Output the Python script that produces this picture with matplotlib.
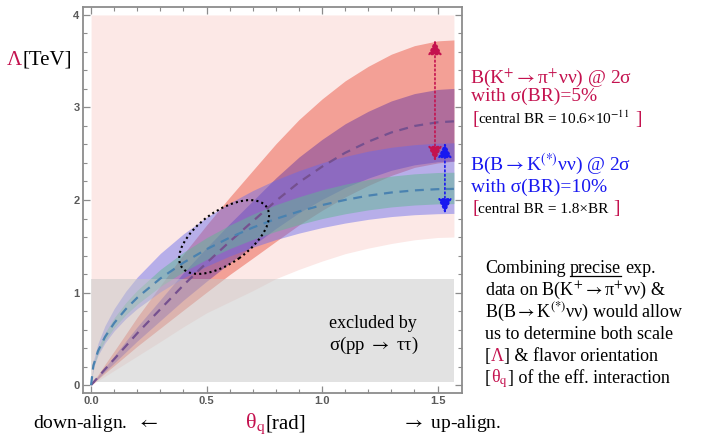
import matplotlib
matplotlib.use('Agg')
import matplotlib.pyplot as plt
from matplotlib.patches import Ellipse
from matplotlib.lines import Line2D
from matplotlib.transforms import ScaledTranslation

W, H = 705, 440
SERIF = ['Liberation Serif', 'DejaVu Serif']
plt.rcParams['mathtext.fontset'] = 'stix'

CRIMSON = '#C4124F'
BLUE = '#1818F0'
BLACK = '#000000'

# theta_q grid [rad] and the curves
theta = [0.0, 0.01, 0.03, 0.06, 0.1, 0.15, 0.2, 0.3, 0.4, 0.5, 0.6, 0.7,
         0.8, 0.9, 1.0, 1.1, 1.2, 1.3, 1.4, 1.5, 1.571]

# K+ -> pi+ nu nu : central, inner band, outer (2 sigma) band
k_mid = [0.0, 0.028, 0.085, 0.17, 0.28, 0.42, 0.56, 0.82, 1.08, 1.32, 1.55,
         1.77, 1.99, 2.19, 2.36, 2.51, 2.63, 2.73, 2.80, 2.84, 2.85]
k_lo1 = [0.0, 0.024, 0.072, 0.145, 0.238, 0.357, 0.476, 0.697, 0.918, 1.122,
         1.318, 1.505, 1.692, 1.862, 2.006, 2.134, 2.236, 2.321, 2.38, 2.414, 2.42]
k_hi1 = [0.0, 0.032, 0.096, 0.191, 0.315, 0.473, 0.63, 0.923, 1.215, 1.485,
         1.744, 1.991, 2.239, 2.464, 2.655, 2.824, 2.959, 3.071, 3.15, 3.195, 3.206]
k_lo2 = [0.0, 0.021, 0.064, 0.128, 0.21, 0.315, 0.42, 0.615, 0.81, 1.003,
         1.194, 1.372, 1.552, 1.73, 1.888, 2.033, 2.157, 2.266, 2.352, 2.40, 2.42]
k_hi2 = [0.0, 0.037, 0.111, 0.223, 0.367, 0.55, 0.734, 1.074, 1.415, 1.729,
         2.03, 2.319, 2.607, 2.869, 3.092, 3.288, 3.445, 3.576, 3.668, 3.72, 3.73]

# B -> K(*) nu nu : central, inner band, outer (2 sigma) band
b_mid = [0.0, 0.212, 0.367, 0.519, 0.67, 0.82, 0.945, 1.152, 1.323, 1.468,
         1.593, 1.702, 1.796, 1.876, 1.945, 2.001, 2.047, 2.081, 2.104, 2.117, 2.12]
b_lo1 = [0.0, 0.196, 0.339, 0.48, 0.62, 0.759, 0.874, 1.066, 1.224, 1.358,
         1.474, 1.574, 1.661, 1.735, 1.799, 1.851, 1.893, 1.925, 1.946, 1.958, 1.961]
b_hi1 = [0.0, 0.23, 0.398, 0.563, 0.727, 0.89, 1.025, 1.25, 1.435, 1.593,
         1.728, 1.847, 1.949, 2.035, 2.11, 2.171, 2.221, 2.258, 2.283, 2.297, 2.30]
b_lo2 = [0.0, 0.186, 0.321, 0.454, 0.586, 0.718, 0.827, 1.008, 1.158, 1.285,
         1.394, 1.489, 1.572, 1.642, 1.702, 1.751, 1.791, 1.821, 1.841, 1.852, 1.855]
b_hi2 = [0.0, 0.262, 0.453, 0.641, 0.827, 1.013, 1.167, 1.423, 1.634, 1.813,
         1.967, 2.102, 2.218, 2.317, 2.402, 2.471, 2.528, 2.57, 2.598, 2.614, 2.618]

# lower edge of the light pink (currently allowed) region
pink_lo = [0.0, 0.016, 0.047, 0.094, 0.157, 0.235, 0.313, 0.47, 0.63, 0.78,
           0.9, 1.02, 1.15, 1.25, 1.34, 1.42, 1.48, 1.53, 1.57, 1.595, 1.60]
pink_hi = 4.0

# pp -> tau tau exclusion
excl_lo, excl_hi = 0.03, 1.15

# favoured region (ellipse)
ell_center = (0.576, 1.60)

fig = plt.figure(figsize=(7.05, 4.40), dpi=100)
ax = fig.add_axes([83 / W, 47 / H, 379 / W, 386 / H])

ax.fill_between(theta, pink_lo, pink_hi, color='#FCE8E6', lw=0, zorder=1)
ax.fill_between(theta, k_lo2, k_hi2, color='#ED7061', alpha=0.6, lw=0, zorder=2)
ax.fill_between(theta, k_lo1, k_hi1, color='#6E3CA0', alpha=0.5, lw=0, zorder=3)
ax.fill_between(theta, b_lo2, b_hi2, color='#6468EE', alpha=0.45, lw=0, zorder=4)
ax.fill_between(theta, b_lo1, b_hi1, color='#62B694', alpha=0.5, lw=0, zorder=5)
ax.fill_between([theta[0], theta[-1]], excl_lo, excl_hi, color='#C6C6C6',
                alpha=0.5, lw=0, zorder=6)

ax.plot(theta, k_mid, ls=(0, (4, 3)), color='#75508F', lw=1.6, zorder=7)
ax.plot(theta, b_mid, ls=(0, (4, 3)), color='#4A82B0', lw=1.6, zorder=7)

ell_tr = fig.dpi_scale_trans + ScaledTranslation(ell_center[0], ell_center[1], ax.transData)
ax.add_patch(Ellipse((0, 0), 1.04, 0.52, angle=35.5, transform=ell_tr, fill=False,
                     ls=(0, (1, 1.5)), lw=1.5, color='k', zorder=8))

arrow_style = '<|-|>,head_length=0.75,head_width=0.35'
ax.annotate('', xy=(1.489, k_hi2[-1]), xytext=(1.489, k_lo2[-1]),
            arrowprops=dict(arrowstyle=arrow_style, ls=':', color=CRIMSON, lw=1.2,
                            mutation_scale=12, shrinkA=0, shrinkB=0), zorder=9)
ax.annotate('', xy=(1.532, b_hi2[-1]), xytext=(1.532, b_lo2[-1]),
            arrowprops=dict(arrowstyle=arrow_style, ls=':', color=BLUE, lw=1.2,
                            mutation_scale=12, shrinkA=0, shrinkB=0), zorder=9)

ax.set_xlim(-0.035, 1.606)
ax.set_ylim(-0.086, 4.086)
ax.set_xticks([0.0, 0.5, 1.0, 1.5])
ax.set_xticklabels(['0.0', '0.5', '1.0', '1.5'])
ax.set_xticks([i / 10 for i in range(16)], minor=True)
ax.set_yticks([0, 1, 2, 3, 4])
ax.set_yticks([i / 5 for i in range(21)], minor=True)
ax.tick_params(which='both', direction='in', top=True, right=True,
               color='#8C8C8C', labelcolor='#5A5A5A', labelsize=8, pad=2.5)
ax.tick_params(which='major', length=5, width=0.9)
ax.tick_params(which='minor', length=3, width=0.8)
for lbl in ax.get_xticklabels() + ax.get_yticklabels():
    lbl.set_fontweight('bold')
    lbl.set_family('Liberation Sans')
for sp in ax.spines.values():
    sp.set_color('#8C8C8C')
    sp.set_linewidth(1.3)

r = fig.canvas.get_renderer()


def text_w(s, size):
    t = fig.text(0, 0, s, fontsize=size, family=SERIF)
    w = t.get_window_extent(r).width
    t.remove()
    return w


def put_line(parts, px, py, size):
    # parts: (text, colour[, size[, underline]]) written one after another
    x = px
    for part in parts:
        s, c = part[0], part[1]
        sz = part[2] if len(part) > 2 and part[2] else size
        under = len(part) > 3 and part[3]
        sp = text_w('x x', sz) - text_w('xx', sz)
        lead = len(s) - len(s.lstrip(' '))
        trail = len(s) - len(s.rstrip(' '))
        x += lead * sp
        t = fig.text(x / W, 1 - py / H, s.strip(' '), color=c, fontsize=sz,
                     family=SERIF, va='baseline', ha='left')
        bb = t.get_window_extent(r)
        if under:
            fig.add_artist(Line2D([bb.x0 / W, bb.x1 / W], [1 - (py + 2.5) / H] * 2,
                                  color=c, lw=0.9))
        x += bb.width + trail * sp


RA = '$\\rightarrow$'
LA = '$\\leftarrow$'

put_line([('Λ', CRIMSON), ('[TeV]', BLACK)], 7, 65, 15)

put_line([('B(K$^{+}\\rightarrow$π$^{+}$νν) @ 2σ', CRIMSON)], 470, 83, 14)
put_line([('with σ(BR)=5%', CRIMSON)], 471, 101, 14)
put_line([('[', CRIMSON, 14), ('central BR = 10.6×10$^{-11}$', BLACK, 11),
          (' ]', CRIMSON, 14)], 472, 124, 11)

put_line([('B(B' + RA + 'K$^{(*)}$νν) @ 2σ', BLUE)], 470, 170, 14)
put_line([('with σ(BR)=10%', BLUE)], 471, 192, 14)
put_line([('[', CRIMSON, 14), ('central BR = 1.8×BR', BLACK, 11),
          (' ]', CRIMSON, 14)], 472, 213, 11)

put_line([('excluded by', BLACK)], 329, 328, 13)
put_line([('σ(pp ' + RA + ' ττ)', BLACK)], 329, 350, 13.5)

put_line([('down-align.  ' + LA, BLACK)], 33, 428, 14)
put_line([('θ$_{\\mathrm{q}}$', CRIMSON, 16), ('[rad]', BLACK)], 245, 428, 15)
put_line([(RA + ' up-align.', BLACK)], 402, 428, 14)

para = [
    [('Combining ', BLACK), ('precise', BLACK, None, True), (' exp.', BLACK)],
    [('data on B(K$^{+}\\rightarrow$π$^{+}$νν) &', BLACK)],
    [('B(B' + RA + 'K$^{(*)}$νν) would allow', BLACK)],
    [('us to determine both scale', BLACK)],
    [('[', BLACK), ('Λ', CRIMSON), ('] & flavor orientation', BLACK)],
    [('[', BLACK), ('θ$_{\\mathrm{q}}$', CRIMSON), ('] of the eff. interaction', BLACK)],
]
for i, line in enumerate(para):
    put_line(line, 485, 273 + 22 * i, 13)

fig.savefig('out.png', dpi=100)
